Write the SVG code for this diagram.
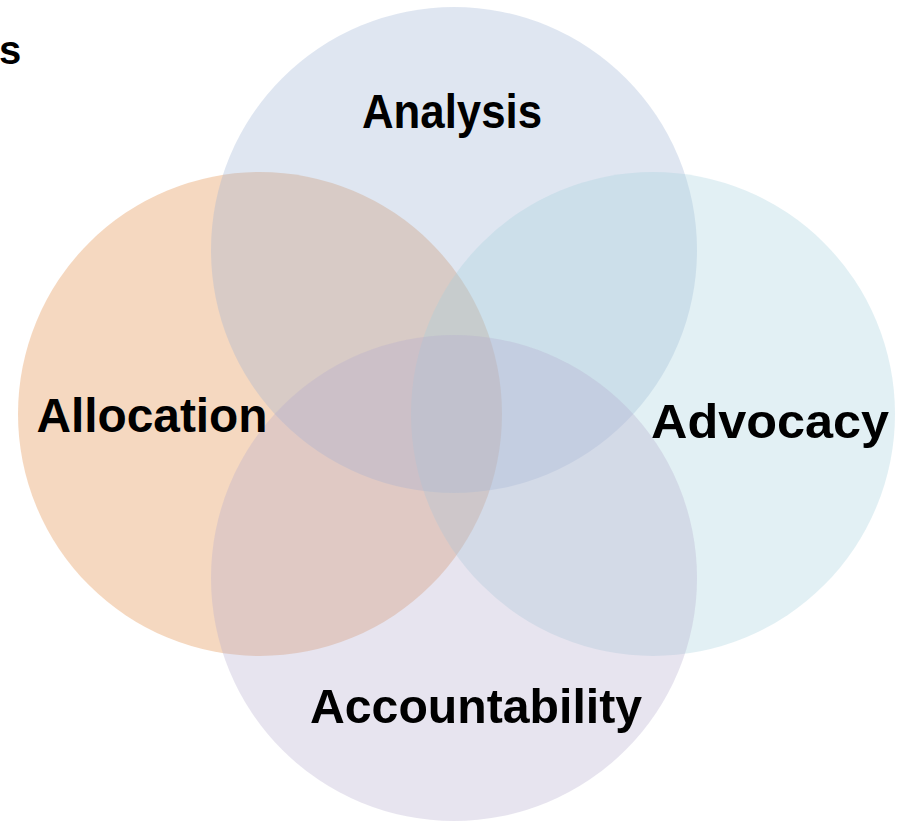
<svg xmlns="http://www.w3.org/2000/svg" width="900" height="821" viewBox="0 0 900 821">
  <style>
    .c { fill-opacity: 0.32; stroke: none; }
    .lbl { font-family: "Liberation Sans", Arial, sans-serif; font-weight: bold; font-size: 48px; fill: #000000; text-anchor: middle; }
  </style>
  <rect x="0" y="0" width="900" height="821" fill="#ffffff"/>
  <text x="-1" y="64" style="font-family: 'Liberation Sans', Arial, sans-serif; font-weight: bold; font-size: 40px; fill: #000;">s</text>
  <g id="allocation">
    <circle class="c" cx="260" cy="414" r="242" fill="#E0853A"/>
  </g>
  <g id="analysis">
    <circle class="c" cx="454" cy="250" r="243" fill="#9BB1D3"/>
  </g>
  <g id="advocacy">
    <circle class="c" cx="653" cy="414" r="242" fill="#A4D0DD"/>
  </g>
  <g id="accountability">
    <circle class="c" cx="454" cy="578" r="243" fill="#B4ABCD"/>
  </g>
  <g id="labels">
    <text class="lbl" x="452" y="128" textLength="180" lengthAdjust="spacingAndGlyphs">Analysis</text>
    <text class="lbl" x="152" y="432" textLength="231" lengthAdjust="spacingAndGlyphs">Allocation</text>
    <text class="lbl" x="770" y="438" textLength="238" lengthAdjust="spacingAndGlyphs">Advocacy</text>
    <text class="lbl" x="476" y="723" textLength="332" lengthAdjust="spacingAndGlyphs">Accountability</text>
  </g>
</svg>
